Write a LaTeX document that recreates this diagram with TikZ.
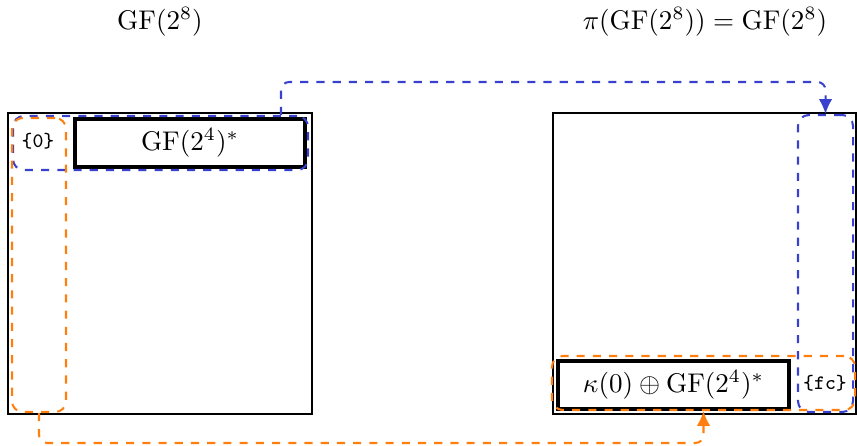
\documentclass[tikz,border=0pt]{standalone}
\usetikzlibrary{fit,arrows.meta}
\definecolor{myblue}{RGB}{55,65,205}
\definecolor{myorange}{RGB}{255,127,14}
\begin{document}
\begin{tikzpicture}[x=0.37pt,y=-0.37pt,
  bigbox/.style={draw, line width=0.65pt, inner sep=0pt},
  setbox/.style={draw, line width=1.3pt, inner sep=0pt},
  bluedash/.style={draw=myblue, dashed, line width=0.75pt, rounded corners=4pt, inner sep=0pt},
  orangedash/.style={draw=myorange, dashed, line width=0.75pt, rounded corners=4pt, inner sep=0pt},
  bluelink/.style={myblue, dashed, line width=0.75pt, rounded corners=3pt, -{Latex[length=5.5pt,width=5pt]}},
  orangelink/.style={myorange, dashed, line width=0.75pt, rounded corners=3pt, -{Latex[length=5.5pt,width=5pt]}},
  small/.style={font=\fontsize{7.6}{9}\selectfont\ttfamily, inner sep=1pt},
  title/.style={inner sep=0pt}
]
\useasboundingbox (0,0) rectangle (857,446);
% titles
\node[title] (t1) at (160,22) {$\mathrm{GF}(2^8)$};
\node[title] (t2) at (705,22) {$\pi(\mathrm{GF}(2^8)) = \mathrm{GF}(2^8)$};
% big boxes
\coordinate (la) at (8,113); \coordinate (lb) at (312,414);
\node[bigbox, fit=(la)(lb)] (L) {};
\coordinate (ra) at (553,113); \coordinate (rb) at (856,414);
\node[bigbox, fit=(ra)(rb)] (R) {};
% left contents
\coordinate (ga) at (75,119); \coordinate (gb) at (305,167);
\node[setbox, fit=(ga)(gb), label=center:{$\mathrm{GF}(2^4)^{*}$}] (gf4) {};
\node[small] (zero) at (38,141) {\{0\}};
\coordinate (bla) at (13,116); \coordinate (blb) at (308,170);
\node[bluedash, fit=(bla)(blb)] (blueL) {};
\coordinate (ola) at (12,118); \coordinate (olb) at (66,412);
\node[orangedash, fit=(ola)(olb)] (orangeL) {};
% right contents
\coordinate (ka) at (558,361); \coordinate (kb) at (789,409);
\node[setbox, fit=(ka)(kb), label=center:{$\kappa(0)\oplus\mathrm{GF}(2^4)^{*}$}] (kap) {};
\node[small] (fc) at (825,383) {\{fc\}};
\coordinate (bra) at (798,115); \coordinate (brb) at (853,412);
\node[bluedash, fit=(bra)(brb)] (blueR) {};
\coordinate (ora) at (552,356); \coordinate (orb) at (855,410);
\node[orangedash, fit=(ora)(orb)] (orangeR) {};
% connectors
\coordinate (bup) at (281,82);
\draw[bluelink] (blueL.north -| bup) -- (bup) -| (blueR.north);
\coordinate (odown) at (orangeL.south |- 0,443);
\draw[orangelink] (orangeL.south) -- (odown) -| (orangeR.south);
\end{tikzpicture}
\end{document}
